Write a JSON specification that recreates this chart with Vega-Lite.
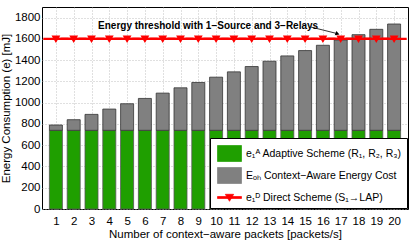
{
  "$schema": "https://vega.github.io/schema/vega-lite/v6.json",
  "width": 366,
  "height": 202,
  "autosize": {"type": "none"},
  "padding": {"left": 42, "top": 7, "right": 7, "bottom": 36},
  "background": "white",
  "config": {
    "font": "Liberation Sans",
    "view": {"stroke": "#000", "strokeWidth": 1},
    "axis": {"labelColor": "#000", "titleColor": "#000", "labelFontSize": 11.5, "titleFontSize": 11.5, "titleFontWeight": "normal", "domain": false, "ticks": false, "gridColor": "#b0b0b0", "gridDash": [1, 2], "gridWidth": 0.8, "labelOverlap": false, "format": "d"},
    "legend": {"orient": "bottom-right", "offset": 1, "fillColor": "white", "strokeColor": "#000", "padding": 5, "symbolOffset": 4, "symbolSize": 400, "symbolStrokeColor": "#444", "symbolStrokeWidth": 0.7, "labelFontSize": 10.5, "labelLimit": 0, "labelColor": "#000", "rowPadding": 2, "labelOffset": 6}
  },
  "data": {"values": [
    {"n": 1, "adaptive": 740, "total": 790, "direct": 1600},
    {"n": 2, "adaptive": 740, "total": 840, "direct": 1600},
    {"n": 3, "adaptive": 740, "total": 890, "direct": 1600},
    {"n": 4, "adaptive": 740, "total": 940, "direct": 1600},
    {"n": 5, "adaptive": 740, "total": 990, "direct": 1600},
    {"n": 6, "adaptive": 740, "total": 1040, "direct": 1600},
    {"n": 7, "adaptive": 740, "total": 1090, "direct": 1600},
    {"n": 8, "adaptive": 740, "total": 1140, "direct": 1600},
    {"n": 9, "adaptive": 740, "total": 1190, "direct": 1600},
    {"n": 10, "adaptive": 740, "total": 1240, "direct": 1600},
    {"n": 11, "adaptive": 740, "total": 1290, "direct": 1600},
    {"n": 12, "adaptive": 740, "total": 1340, "direct": 1600},
    {"n": 13, "adaptive": 740, "total": 1390, "direct": 1600},
    {"n": 14, "adaptive": 740, "total": 1440, "direct": 1600},
    {"n": 15, "adaptive": 740, "total": 1490, "direct": 1600},
    {"n": 16, "adaptive": 740, "total": 1540, "direct": 1600},
    {"n": 17, "adaptive": 740, "total": 1590, "direct": 1600},
    {"n": 18, "adaptive": 740, "total": 1640, "direct": 1600},
    {"n": 19, "adaptive": 740, "total": 1690, "direct": 1600},
    {"n": 20, "adaptive": 740, "total": 1740, "direct": 1600}
  ]},
  "layer": [
    {
      "mark": {"type": "bar", "size": 13, "stroke": "#555", "strokeWidth": 0.8},
      "encoding": {
        "x": {"field": "n", "type": "quantitative", "scale": {"domain": [0.5, 20.5], "nice": false, "zero": false},
          "axis": {"values": [1,2,3,4,5,6,7,8,9,10,11,12,13,14,15,16,17,18,19,20], "tickCount": 25, "title": "Number of context−aware packets [packets/s]", "labelPadding": 6, "titlePadding": 2, "grid": true, "labelOverlap": false, "labelFlush": false}},
        "y": {"field": "adaptive", "type": "quantitative", "scale": {"domain": [0, 1900], "nice": false},
          "axis": {"values": [0,200,400,600,800,1000,1200,1400,1600,1800], "tickCount": 12, "title": "Energy Consumption (e) [mJ]", "labelPadding": 2, "titlePadding": 3, "grid": true, "labelOverlap": false}},
        "color": {"datum": "e₁ᴬ Adaptive Scheme (R₁, R₂, R₃)",
          "scale": {"domain": ["e₁ᴬ Adaptive Scheme (R₁, R₂, R₃)", "Eₒₕ Context−Aware Energy Cost", "e₁ᴰ Direct Scheme (S₁→LAP)"], "range": ["#1f9f00", "#808080", "#ff0000"]},
          "legend": {"title": null}
        }
      }
    },
    {
      "mark": {"type": "bar", "size": 13, "stroke": "#333", "strokeWidth": 0.8},
      "encoding": {
        "x": {"field": "n", "type": "quantitative"},
        "y": {"field": "adaptive", "type": "quantitative"},
        "y2": {"field": "total"},
        "color": {"datum": "Eₒₕ Context−Aware Energy Cost"}
      }
    },
    {
      "mark": {"type": "line", "strokeWidth": 2.2},
      "encoding": {
        "x": {"field": "n", "type": "quantitative"},
        "y": {"field": "direct", "type": "quantitative"},
        "color": {"datum": "e₁ᴰ Direct Scheme (S₁→LAP)"}
      }
    },
    {
      "mark": {"type": "point", "filled": true, "size": 441, "opacity": 1, "clip": true, "strokeWidth": 0},
      "encoding": {
        "x": {"field": "n", "type": "quantitative"},
        "y": {"field": "direct", "type": "quantitative"},
        "color": {"datum": "e₁ᴰ Direct Scheme (S₁→LAP)"},
        "shape": {"datum": "e₁ᴰ Direct Scheme (S₁→LAP)",
          "scale": {"domain": ["e₁ᴬ Adaptive Scheme (R₁, R₂, R₃)", "Eₒₕ Context−Aware Energy Cost", "e₁ᴰ Direct Scheme (S₁→LAP)"],
            "range": ["M-1.2,-0.8H1.2V0.8H-1.2Z", "M-1.2,-0.8H1.2V0.8H-1.2Z", "M-1.2,-0.1H1.2V0.1H-1.2Z M-0.42,-0.32H0.42L0,0.38Z"]},
          "legend": {"title": null}}
      }
    },
    {
      "data": {"values": [{}]},
      "mark": {"type": "text", "fontWeight": "bold", "fontSize": 10, "color": "#000", "baseline": "middle", "align": "center"},
      "encoding": {
        "x": {"datum": 9.55, "type": "quantitative"},
        "y": {"datum": 1720, "type": "quantitative"},
        "text": {"value": "Energy threshold with 1−Source and 3−Relays"}
      }
    },
    {
      "data": {"values": [{}]},
      "mark": {"type": "rule", "color": "#000", "strokeWidth": 0.8},
      "encoding": {
        "x": {"datum": 15.32, "type": "quantitative"},
        "y": {"datum": 1712, "type": "quantitative"},
        "x2": {"datum": 16.8},
        "y2": {"datum": 1650}
      }
    },
    {
      "data": {"values": [{}]},
      "mark": {"type": "point", "shape": "triangle-right", "filled": true, "size": 22, "color": "#000", "opacity": 1, "angle": 20},
      "encoding": {
        "x": {"datum": 16.82, "type": "quantitative"},
        "y": {"datum": 1648, "type": "quantitative"}
      }
    }
  ]
}
